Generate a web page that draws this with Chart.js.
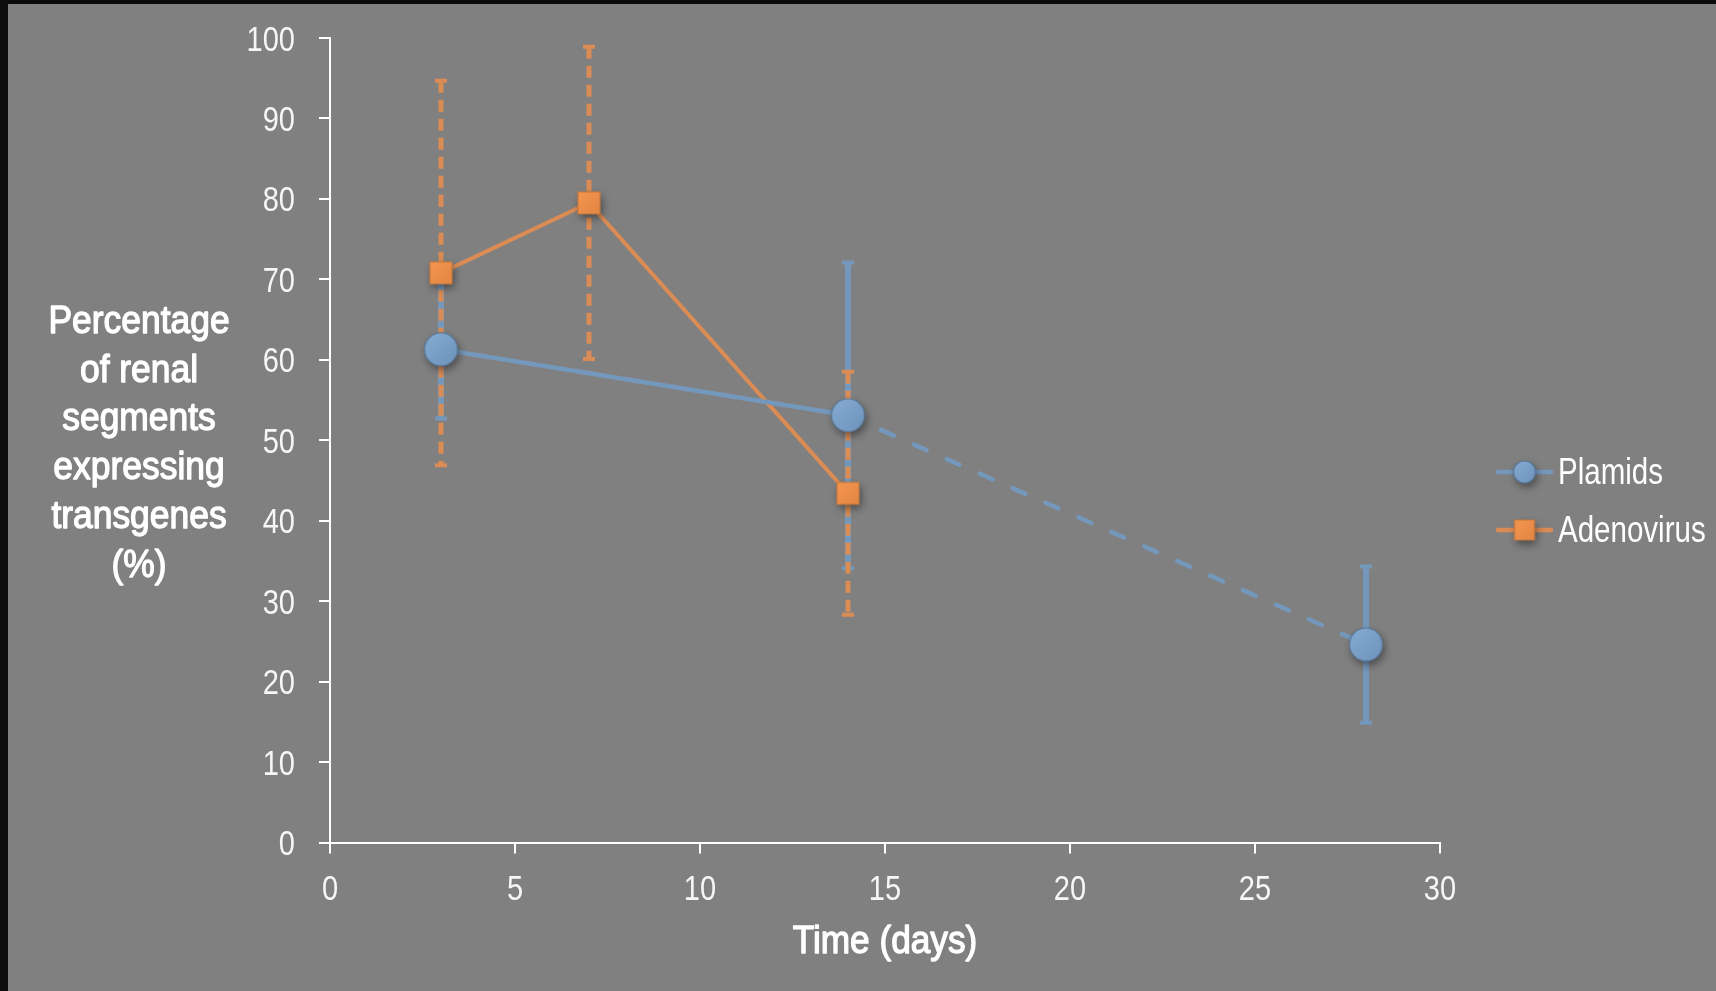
<!DOCTYPE html>
<html>
<head>
<meta charset="utf-8">
<script src="https://cdn.jsdelivr.net/npm/chart.js@4.4.0/dist/chart.umd.min.js"></script>
<style>
html, body { margin: 0; padding: 0; background: #0c0c0c; }
#wrap { position: absolute; left: 8px; top: 4px; width: 1708px; height: 987px; background: #808080; }
</style>
</head>
<body>
<div id="wrap"><canvas id="chart"></canvas></div>
<script>
// values
var plasmidDays = [3, 14, 28];
var plasmidValues = [61.3, 53.1, 24.6];
var plasmidErrors = [8.6, 19.0, 9.7];

var adenoDays = [3, 7, 14];
var adenoValues = [70.8, 79.5, 43.4];
var adenoErrors = [23.9, 19.4, 15.1];

var xTicks = [0, 5, 10, 15, 20, 25, 30];
var yTicks = [0, 10, 20, 30, 40, 50, 60, 70, 80, 90, 100];

var seriesNames = ['Plamids', 'Adenovirus'];
var xTitle = 'Time (days)';
var yTitleLines = ['Percentage', 'of renal', 'segments', 'expressing', 'transgenes', '(%)'];

// no Arial Narrow here, so Liberation Sans squeezed sideways
var FONT = "'Liberation Sans', Arial, sans-serif";
var blueLine = 'rgb(116,152,188)';
var orangeLine = 'rgb(218,140,84)';

function makeMarker(shape, size, c1, c2, edge) {
  var pad = 14;
  var cv = document.createElement('canvas');
  cv.width = size + pad * 2;
  cv.height = size + pad * 2;
  var g = cv.getContext('2d');
  var c = cv.width / 2;
  var grad = g.createLinearGradient(c - size / 2, c - size / 2, c + size / 2, c + size / 2);
  grad.addColorStop(0, c1);
  grad.addColorStop(1, c2);
  g.shadowColor = 'rgba(0,0,0,0.45)';
  g.shadowBlur = 8;
  g.shadowOffsetX = 2;
  g.shadowOffsetY = 4;
  g.fillStyle = grad;
  g.beginPath();
  if (shape === 'circle') g.arc(c, c, size / 2, 0, Math.PI * 2);
  else g.rect(c - size / 2, c - size / 2, size, size);
  g.fill();
  g.shadowColor = 'transparent';
  g.strokeStyle = edge;
  g.lineWidth = 1.2;
  g.stroke();
  return cv;
}

var circleBig = makeMarker('circle', 33, 'rgb(134,172,212)', 'rgb(110,147,186)', 'rgb(88,118,150)');
var squareBig = makeMarker('square', 22, 'rgb(245,150,78)', 'rgb(226,134,68)', 'rgb(196,120,62)');
var circleSmall = makeMarker('circle', 22, 'rgb(134,172,212)', 'rgb(110,147,186)', 'rgb(88,118,150)');
var squareSmall = makeMarker('square', 20, 'rgb(245,150,78)', 'rgb(226,134,68)', 'rgb(196,120,62)');

function points(xs, ys) {
  return xs.map(function (x, i) { return { x: x, y: ys[i] }; });
}

// heavy > 0 adds a thin outline, to get a medium weight
function narrowText(ctx, text, x, y, align, sx, heavy) {
  ctx.save();
  ctx.translate(x, y);
  ctx.scale(sx, 1);
  ctx.textAlign = align;
  ctx.fillText(text, 0, 0);
  if (heavy) {
    ctx.strokeStyle = ctx.fillStyle;
    ctx.lineWidth = heavy;
    ctx.lineJoin = 'round';
    ctx.strokeText(text, 0, 0);
  }
  ctx.restore();
}

function drawErrors(chart, xs, ys, errs, color, dash, width) {
  var ctx = chart.ctx;
  var sx = chart.scales.x, sy = chart.scales.y;
  ctx.save();
  ctx.strokeStyle = color;
  for (var i = 0; i < xs.length; i++) {
    var px = sx.getPixelForValue(xs[i]);
    var top = sy.getPixelForValue(ys[i] + errs[i]);
    var bot = sy.getPixelForValue(ys[i] - errs[i]);
    ctx.lineWidth = width;
    ctx.setLineDash(dash);
    ctx.beginPath();
    ctx.moveTo(px, top);
    ctx.lineTo(px, bot);
    ctx.stroke();
    ctx.setLineDash([]);
    ctx.lineWidth = 4;
    ctx.beginPath();
    ctx.moveTo(px - 6, top); ctx.lineTo(px + 6, top);
    ctx.moveTo(px - 6, bot); ctx.lineTo(px + 6, bot);
    ctx.stroke();
  }
  ctx.restore();
}

var extras = {
  id: 'extras',
  beforeDatasetsDraw: function (chart) {
    drawErrors(chart, plasmidDays, plasmidValues, plasmidErrors, blueLine, [], 6);
    drawErrors(chart, adenoDays, adenoValues, adenoErrors, orangeLine, [12, 7], 5);
  },
  afterDraw: function (chart) {
    var ctx = chart.ctx;
    var ca = chart.chartArea;
    var sx = chart.scales.x, sy = chart.scales.y;
    ctx.save();
    ctx.fillStyle = '#f6f6f6';
    ctx.textBaseline = 'alphabetic';

    // tick labels
    ctx.font = '35px ' + FONT;
    sy.ticks.forEach(function (t) {
      narrowText(ctx, String(t.value), ca.left - 35, sy.getPixelForValue(t.value) + 12.5, 'right', 0.83);
    });
    sx.ticks.forEach(function (t) {
      narrowText(ctx, String(t.value), sx.getPixelForValue(t.value), 896, 'center', 0.83);
    });

    // axis titles
    ctx.fillStyle = '#ffffff';
    ctx.font = '38.5px ' + FONT;
    yTitleLines.forEach(function (t, i) {
      narrowText(ctx, t, 131, 329 + i * 48.7, 'center', 0.92, 1.3);
    });
    narrowText(ctx, xTitle, (ca.left + ca.right) / 2, 949, 'center', 0.915, 1.3);

    // legend
    var rows = [
      { y: 468, color: blueLine, img: circleSmall },
      { y: 526, color: orangeLine, img: squareSmall }
    ];
    ctx.font = '36px ' + FONT;
    rows.forEach(function (r, i) {
      ctx.strokeStyle = r.color;
      ctx.lineWidth = 4.5;
      ctx.lineCap = 'round';
      ctx.beginPath();
      ctx.moveTo(1490, r.y); ctx.lineTo(1543, r.y);
      ctx.stroke();
      ctx.drawImage(r.img, 1516.5 - r.img.width / 2, r.y - r.img.height / 2);
      ctx.fillStyle = '#ffffff';
      narrowText(ctx, seriesNames[i], 1550, r.y + 11.5, 'left', 0.82);
    });
    ctx.restore();
  }
};

new Chart(document.getElementById('chart'), {
  type: 'line',
  data: {
    datasets: [{
      label: seriesNames[0],
      data: points(plasmidDays, plasmidValues),
      borderColor: blueLine,
      borderWidth: 4.5,
      borderCapStyle: 'round',
      pointStyle: circleBig,
      segment: {
        borderDash: function (c) { return c.p0DataIndex === 1 ? [14, 22] : undefined; }
      }
    }, {
      label: seriesNames[1],
      data: points(adenoDays, adenoValues),
      borderColor: orangeLine,
      borderWidth: 4,
      pointStyle: squareBig
    }]
  },
  options: {
    responsive: true,
    maintainAspectRatio: false,
    animation: false,
    clip: false,
    layout: { padding: { left: 200, right: 276, top: 34, bottom: 0 } },
    plugins: { legend: { display: false }, tooltip: { enabled: false } },
    scales: {
      x: {
        type: 'linear', min: 0, max: 30,
        afterFit: function (s) { s.height = 148.5; },
        afterBuildTicks: function (s) { s.ticks = xTicks.map(function (v) { return { value: v }; }); },
        ticks: { display: false },
        grid: { drawOnChartArea: false, color: '#ffffff', lineWidth: 2, tickLength: 11 },
        border: { color: '#ffffff', width: 2 }
      },
      y: {
        min: 0, max: 100,
        afterFit: function (s) { s.width = 122; },
        afterBuildTicks: function (s) { s.ticks = yTicks.map(function (v) { return { value: v }; }); },
        ticks: { display: false },
        grid: { drawOnChartArea: false, color: '#ffffff', lineWidth: 2, tickLength: 11 },
        border: { color: '#ffffff', width: 2 }
      }
    }
  },
  plugins: [extras]
});
</script>
</body>
</html>
